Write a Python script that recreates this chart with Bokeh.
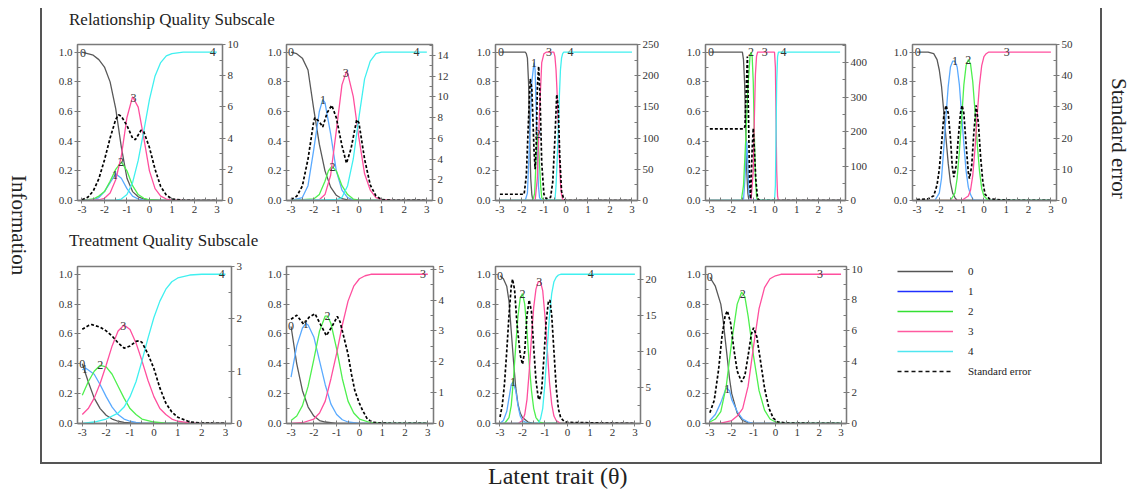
import numpy as np
from bokeh.plotting import figure
from bokeh.models import (Range1d, LinearAxis, FixedTicker, Div, Spacer, Legend, LegendItem,
                          CustomJSTickFormatter)
from bokeh.layouts import row, column
from bokeh.core.properties import value
from bokeh.embed import file_html
from bokeh.resources import INLINE

# ---------------- DATA ----------------
# Relationship Quality Subscale, item 1 (right axis 0-10)
RQ1_X0 = [-3, -2.75, -2.5, -2.25, -2, -1.75, -1.5, -1.25, -1, -0.75, -0.5, -0.25, 0, 0.5, 1, 3]
RQ1_Y0 = [1.0, 0.99, 0.98, 0.95, 0.9, 0.8, 0.62, 0.36, 0.15, 0.06, 0.025, 0.01, 0.004, 0, 0, 0]
RQ1_X1 = [-3, -2.5, -2.25, -2, -1.75, -1.5, -1.25, -1, -0.75, -0.5, -0.25, 0, 3]
RQ1_Y1 = [0, 0.005, 0.02, 0.06, 0.12, 0.18, 0.15, 0.08, 0.03, 0.01, 0.003, 0, 0]
RQ1_X2 = [-3, -2.5, -2.25, -2, -1.75, -1.5, -1.25, -1, -0.75, -0.5, -0.25, 0, 0.5, 3]
RQ1_Y2 = [0, 0.01, 0.03, 0.06, 0.13, 0.21, 0.26, 0.2, 0.1, 0.04, 0.015, 0.005, 0, 0]
RQ1_X3 = [-3, -2.25, -2, -1.75, -1.5, -1.25, -1, -0.75, -0.5, -0.25, 0, 0.25, 0.5, 0.75, 1, 1.5, 3]
RQ1_Y3 = [0, 0.005, 0.015, 0.05, 0.14, 0.3, 0.56, 0.7, 0.63, 0.42, 0.2, 0.08, 0.03, 0.01, 0.004, 0, 0]
RQ1_X4 = [-3, -1.5, -1.25, -1, -0.75, -0.5, -0.25, 0, 0.25, 0.5, 0.75, 1, 1.5, 3]
RQ1_Y4 = [0, 0.003, 0.01, 0.04, 0.12, 0.27, 0.47, 0.68, 0.84, 0.93, 0.975, 0.99, 1.0, 1.0]
RQ1_SEX = [-3, -2.75, -2.5, -2.25, -2, -1.75, -1.5, -1.375, -1.25, -1, -0.75, -0.625, -0.5, -0.375,
           -0.25, 0, 0.25, 0.5, 0.75, 1, 1.5, 2, 3]
RQ1_SEY = [0.05, 0.2, 0.6, 1.4, 2.6, 4.0, 5.2, 5.5, 5.4, 4.8, 4.0, 3.9, 4.2, 4.5, 4.4, 3.4, 2.0, 0.9,
           0.35, 0.1, 0.02, 0, 0]
RQ1_LABX = [-2.95, -1.53, -1.26, -0.71, 2.82]

# item 2 (right axis 0-15)
RQ2_X0 = [-3, -2.75, -2.5, -2.25, -2, -1.75, -1.5, -1.25, -1, -0.75, -0.5, 0, 3]
RQ2_Y0 = [1.0, 0.99, 0.96, 0.88, 0.62, 0.38, 0.2, 0.09, 0.035, 0.012, 0.004, 0, 0]
RQ2_X1 = [-3, -2.5, -2.25, -2, -1.75, -1.6, -1.5, -1.25, -1, -0.75, -0.5, -0.25, 0, 3]
RQ2_Y1 = [0, 0.02, 0.1, 0.34, 0.6, 0.68, 0.66, 0.45, 0.2, 0.07, 0.02, 0.005, 0, 0]
RQ2_X2 = [-3, -2, -1.75, -1.5, -1.35, -1.2, -1, -0.75, -0.5, -0.25, 0, 0.5, 3]
RQ2_Y2 = [0, 0.01, 0.04, 0.13, 0.2, 0.23, 0.2, 0.1, 0.04, 0.01, 0.003, 0, 0]
RQ2_X3 = [-3, -1.75, -1.5, -1.25, -1, -0.75, -0.55, -0.5, -0.25, 0, 0.25, 0.5, 0.75, 1, 1.5, 3]
RQ2_Y3 = [0, 0.005, 0.04, 0.17, 0.47, 0.78, 0.87, 0.86, 0.7, 0.42, 0.18, 0.07, 0.02, 0.005, 0, 0]
RQ2_X4 = [-3, -1, -0.75, -0.5, -0.25, 0, 0.25, 0.5, 0.75, 1, 3]
RQ2_Y4 = [0, 0.005, 0.02, 0.1, 0.28, 0.56, 0.82, 0.94, 0.99, 1.0, 1.0]
RQ2_SEX = [-3, -2.75, -2.5, -2.25, -2, -1.95, -1.75, -1.6, -1.4, -1.2, -1, -0.75, -0.55, -0.35, -0.1,
           0, 0.25, 0.5, 0.75, 1, 1.5, 3]
RQ2_SEY = [0.1, 0.4, 1.4, 4.0, 7.6, 8.0, 7.6, 7.1, 8.5, 9.2, 8.0, 5.3, 3.6, 5.0, 7.8, 7.5, 4.0, 1.5,
           0.45, 0.1, 0.02, 0]
RQ2_LABX = [-3.0, -1.59, -1.17, -0.58, 2.54]

# item 3 (right axis 0-250)
RQ3_X0 = [-3, -1.85, -1.8, -1.75, -1.7, -1.65, -1.6, -1.55, -1.5, 3]
RQ3_Y0 = [1, 1, 0.99, 0.96, 0.8, 0.45, 0.15, 0.04, 0, 0]
RQ3_X1 = [-3, -1.85, -1.75, -1.65, -1.55, -1.45, -1.4, -1.35, -1.3, -1.25, -1.2, -1.1, 3]
RQ3_Y1 = [0, 0, 0.05, 0.4, 0.8, 0.93, 0.88, 0.6, 0.3, 0.1, 0.02, 0, 0]
RQ3_X2 = [-3, -1.5, -1.42, -1.35, -1.28, -1.22, -1.15, -1.1, -1.0, 3]
RQ3_Y2 = [0, 0, 0.05, 0.3, 0.45, 0.3, 0.1, 0.02, 0, 0]
RQ3_X3 = [-3, -1.4, -1.3, -1.2, -1.1, -1.0, -0.9, -0.55, -0.5, -0.45, -0.4, -0.35, -0.3, -0.25,
          -0.2, -0.15, -0.1, 3]
RQ3_Y3 = [0, 0, 0.15, 0.6, 0.93, 0.99, 1.0, 1.0, 0.97, 0.88, 0.72, 0.52, 0.3, 0.12, 0.04, 0.01, 0, 0]
RQ3_X4 = [-3, -0.5, -0.45, -0.4, -0.35, -0.3, -0.25, -0.2, -0.15, -0.1, 3]
RQ3_Y4 = [0, 0, 0.1, 0.27, 0.47, 0.7, 0.88, 0.96, 0.99, 1.0, 1.0]
RQ3_SEX = [-3, -1.9, -1.8, -1.7, -1.62, -1.55, -1.45, -1.4, -1.35, -1.3, -1.24, -1.18, -1.1, -1.0,
           -0.9, -0.7, -0.6, -0.5, -0.42, -0.35, -0.28, -0.2, -0.1, 0, 3]
RQ3_SEY = [10, 10, 40, 130, 195, 180, 80, 50, 90, 180, 215, 170, 60, 10, 3, 5, 30, 100, 170, 150,
           70, 15, 2, 0, 0]
RQ3_LABX = [-2.95, -1.45, -1.28, -0.77, 0.21]

# item 4 (right axis 0-450)
RQ4_X0 = [-3, -1.5, -1.45, -1.4, -1.35, -1.3, -1.25, -1.2, 3]
RQ4_Y0 = [1, 1, 0.95, 0.8, 0.5, 0.2, 0.05, 0, 0]
RQ4_X1 = [-3, -1.45, -1.38, -1.3, -1.25, -1.2, -1.1, 3]
RQ4_Y1 = [0, 0, 0.15, 0.4, 0.25, 0.05, 0, 0]
RQ4_X2 = [-3, -1.55, -1.45, -1.35, -1.25, -1.15, -1.1, -1.05, -1.0, -0.95, -0.9, -0.85, -0.8, 3]
RQ4_Y2 = [0, 0, 0.1, 0.4, 0.75, 0.97, 1.0, 0.97, 0.8, 0.45, 0.15, 0.03, 0, 0]
RQ4_X3 = [-3, -1.1, -1.0, -0.95, -0.9, -0.85, -0.8, -0.02, 0.02, 0.05, 0.08, 0.12, 0.16, 3]
RQ4_Y3 = [0, 0, 0.2, 0.55, 0.85, 0.97, 1.0, 1.0, 0.9, 0.55, 0.2, 0.03, 0, 0]
RQ4_X4 = [-3, -0.02, 0.02, 0.05, 0.08, 0.12, 0.16, 3]
RQ4_Y4 = [0, 0, 0.1, 0.45, 0.8, 0.97, 1.0, 1.0]
RQ4_SEX = [-3, -1.45, -1.38, -1.32, -1.27, -1.22, -1.17, -1.12, -1.05, -1.0, -0.95, -0.88, -0.8,
           -0.7, 3]
RQ4_SEY = [208, 208, 215, 330, 418, 250, 60, 5, 150, 210, 150, 60, 5, 0, 0]
RQ4_LABX = [-2.95, None, -1.1, -0.47, 0.39]

# item 5 (right axis 0-50), four categories
RQ5_X0 = [-3, -2.5, -2.25, -2.1, -2.0, -1.9, -1.8, -1.7, -1.6, -1.5, -1.4, -1.3, -1.2, 3]
RQ5_Y0 = [1, 1, 0.99, 0.95, 0.88, 0.77, 0.6, 0.42, 0.25, 0.12, 0.05, 0.02, 0, 0]
RQ5_X1 = [-3, -2.2, -2.0, -1.9, -1.8, -1.7, -1.6, -1.5, -1.4, -1.3, -1.2, -1.1, -1.0, -0.9, -0.8,
          -0.7, -0.6, -0.5, -0.4, 3]
RQ5_Y1 = [0, 0, 0.05, 0.15, 0.35, 0.57, 0.77, 0.9, 0.94, 0.94, 0.9, 0.78, 0.58, 0.38, 0.2, 0.09,
          0.04, 0.01, 0, 0]
RQ5_X2 = [-3, -1.5, -1.3, -1.2, -1.1, -1.0, -0.9, -0.8, -0.7, -0.6, -0.5, -0.4, -0.3, -0.2, -0.1,
          0, 0.2, 3]
RQ5_Y2 = [0, 0, 0.05, 0.15, 0.33, 0.55, 0.78, 0.91, 0.95, 0.92, 0.8, 0.6, 0.38, 0.2, 0.08, 0.03, 0, 0]
RQ5_X3 = [-3, -1.0, -0.7, -0.6, -0.5, -0.4, -0.3, -0.2, -0.1, 0, 0.1, 0.2, 3]
RQ5_Y3 = [0, 0, 0.03, 0.07, 0.17, 0.35, 0.58, 0.78, 0.91, 0.97, 0.99, 1.0, 1.0]
RQ5_SEX = [-3, -2.5, -2.25, -2.1, -2.0, -1.9, -1.8, -1.7, -1.6, -1.5, -1.42, -1.35, -1.25, -1.15,
           -1.05, -0.98, -0.9, -0.8, -0.7, -0.65, -0.55, -0.45, -0.35, -0.25, -0.15, -0.05, 0.05,
           0.25, 1, 3]
RQ5_SEY = [0.3, 0.5, 1.5, 5, 10, 18, 27, 30.5, 28, 20, 11, 7.5, 11, 20, 28, 30.5, 28, 18, 9, 7, 11,
           22, 30.5, 25, 14, 6, 2, 0.5, 0.1, 0]
RQ5_LABX = [-2.96, -1.3, -0.7, 1.02]

# Treatment Quality Subscale, item 1 (right axis 0-3)
TQ1_X0 = [-3, -2.75, -2.5, -2.25, -2, -1.75, -1.5, -1.25, -1, -0.5, 0, 3]
TQ1_Y0 = [0.4, 0.28, 0.17, 0.1, 0.055, 0.03, 0.015, 0.008, 0.004, 0, 0, 0]
TQ1_X1 = [-3, -2.85, -2.5, -2.25, -2, -1.75, -1.5, -1.25, -1, -0.75, -0.5, 0, 3]
TQ1_Y1 = [0.36, 0.37, 0.33, 0.26, 0.18, 0.11, 0.06, 0.03, 0.015, 0.007, 0.003, 0, 0]
TQ1_X2 = [-3, -2.75, -2.5, -2.25, -2, -1.75, -1.5, -1.25, -1, -0.75, -0.5, 0, 0.5, 1, 3]
TQ1_Y2 = [0.19, 0.28, 0.35, 0.39, 0.38, 0.33, 0.25, 0.17, 0.1, 0.06, 0.03, 0.01, 0.003, 0, 0]
TQ1_X3 = [-3, -2.75, -2.5, -2.25, -2, -1.75, -1.5, -1.25, -1, -0.75, -0.5, -0.25, 0, 0.25, 0.5,
          0.75, 1, 1.5, 2, 3]
TQ1_Y3 = [0.06, 0.1, 0.17, 0.27, 0.39, 0.52, 0.62, 0.66, 0.63, 0.54, 0.42, 0.29, 0.18, 0.1, 0.06,
          0.03, 0.015, 0.004, 0, 0]
TQ1_X4 = [-3, -2.5, -2, -1.5, -1.25, -1, -0.75, -0.5, -0.25, 0, 0.25, 0.5, 0.75, 1, 1.5, 2, 3]
TQ1_Y4 = [0, 0.01, 0.03, 0.07, 0.11, 0.18, 0.28, 0.42, 0.57, 0.71, 0.82, 0.9, 0.95, 0.975, 0.995,
          1.0, 1.0]
TQ1_SEX = [-3, -2.75, -2.6, -2.25, -2, -1.75, -1.5, -1.25, -1, -0.75, -0.6, -0.5, -0.25, 0, 0.25,
           0.5, 0.75, 1, 1.5, 2, 3]
TQ1_SEY = [1.80, 1.87, 1.89, 1.84, 1.77, 1.67, 1.54, 1.44, 1.48, 1.57, 1.58, 1.55, 1.33, 1.05, 0.68,
           0.39, 0.22, 0.12, 0.03, 0.01, 0]
TQ1_LABX = [-3.0, -2.9, -2.25, -1.28, 2.84]

# item 2 (right axis 0-5), four categories
TQ2_X0 = [-3, -2.75, -2.5, -2.25, -2, -1.75, -1.5, -1, 3]
TQ2_Y0 = [0.65, 0.4, 0.22, 0.11, 0.05, 0.02, 0.01, 0, 0]
TQ2_X1 = [-3, -2.75, -2.5, -2.35, -2.25, -2, -1.75, -1.5, -1.25, -1, -0.75, -0.5, 0, 3]
TQ2_Y1 = [0.31, 0.52, 0.64, 0.67, 0.66, 0.58, 0.42, 0.26, 0.13, 0.06, 0.025, 0.01, 0, 0]
TQ2_X2 = [-3, -2.75, -2.5, -2.25, -2, -1.75, -1.5, -1.4, -1.25, -1, -0.75, -0.5, -0.25, 0, 0.5, 1, 3]
TQ2_Y2 = [0.02, 0.05, 0.12, 0.25, 0.43, 0.62, 0.72, 0.72, 0.67, 0.5, 0.3, 0.15, 0.07, 0.03, 0.005,
          0, 0]
TQ2_X3 = [-3, -2.5, -2, -1.75, -1.5, -1.25, -1, -0.75, -0.5, -0.25, 0, 0.25, 0.5, 3]
TQ2_Y3 = [0, 0.005, 0.03, 0.07, 0.15, 0.3, 0.47, 0.66, 0.82, 0.92, 0.97, 0.99, 1.0, 1.0]
TQ2_SEX = [-3, -2.75, -2.45, -2.2, -1.95, -1.7, -1.45, -1.2, -0.97, -0.85, -0.7, -0.5, -0.35, -0.2,
           0, 0.15, 0.35, 0.6, 1, 3]
TQ2_SEY = [3.38, 3.51, 3.22, 3.45, 3.56, 3.2, 2.85, 3.15, 3.47, 3.3, 2.85, 2.25, 1.6, 1.06, 0.65,
           0.41, 0.14, 0.04, 0.01, 0]
TQ2_LABX = [-3.0, -2.35, -1.4, 2.79]

# item 3 (right axis 0-21.75)
TQ3_X0 = [-3, -2.85, -2.7, -2.6, -2.5, -2.4, -2.3, -2.2, -2.1, -2, -1.75, -1.5, 3]
TQ3_Y0 = [0.99, 0.97, 0.92, 0.82, 0.62, 0.42, 0.24, 0.13, 0.07, 0.04, 0.01, 0, 0]
TQ3_X1 = [-3, -2.85, -2.7, -2.6, -2.5, -2.42, -2.3, -2.2, -2.1, -2, -1.75, 3]
TQ3_Y1 = [0, 0.02, 0.08, 0.17, 0.26, 0.28, 0.22, 0.12, 0.05, 0.02, 0, 0]
TQ3_X2 = [-3, -2.8, -2.6, -2.5, -2.4, -2.3, -2.2, -2.1, -2, -1.9, -1.8, -1.7, -1.6, -1.5, -1.4,
          -1.25, -1, 3]
TQ3_Y2 = [0, 0, 0.04, 0.12, 0.3, 0.52, 0.72, 0.84, 0.87, 0.8, 0.62, 0.4, 0.22, 0.1, 0.04, 0.01, 0, 0]
TQ3_X3 = [-3, -2.2, -2, -1.9, -1.8, -1.7, -1.6, -1.5, -1.4, -1.3, -1.2, -1.1, -1.0, -0.9, -0.8,
          -0.7, -0.6, -0.5, -0.3, 3]
TQ3_Y3 = [0, 0, 0.02, 0.06, 0.16, 0.35, 0.58, 0.78, 0.9, 0.95, 0.95, 0.89, 0.72, 0.5, 0.28, 0.13,
          0.05, 0.02, 0, 0]
TQ3_X4 = [-3, -1.3, -1.2, -1.1, -1.0, -0.9, -0.8, -0.7, -0.6, -0.5, -0.4, -0.3, 3]
TQ3_Y4 = [0, 0, 0.03, 0.1, 0.27, 0.5, 0.72, 0.87, 0.95, 0.98, 0.995, 1.0, 1.0]
TQ3_SEX = [-3, -2.9, -2.8, -2.7, -2.6, -2.5, -2.44, -2.35, -2.25, -2.1, -2.0, -1.9, -1.8, -1.7,
           -1.6, -1.5, -1.4, -1.3, -1.25, -1.15, -1.05, -0.95, -0.85, -0.78, -0.7, -0.6, -0.5,
           -0.4, -0.3, -0.15, 0, 3]
TQ3_SEY = [0.9, 2.5, 5.5, 10, 15, 19, 20, 18.5, 14, 9.5, 8.2, 10, 15, 17.1, 15.5, 10.5, 6, 3.6,
           3.3, 4.5, 9, 14, 16.8, 17.1, 15, 10, 5, 2, 0.8, 0.3, 0.15, 0]
TQ3_LABX = [-3.0, -2.42, -2.0, -1.25, 1.04]

# item 4 (right axis 0-10), four categories
TQ4_X0 = [-3, -2.75, -2.5, -2.4, -2.25, -2.1, -2, -1.75, -1.5, -1.25, -1, 3]
TQ4_Y0 = [0.98, 0.92, 0.8, 0.7, 0.5, 0.3, 0.2, 0.07, 0.02, 0.005, 0, 0]
TQ4_X1 = [-3, -2.75, -2.5, -2.25, -2.1, -2, -1.75, -1.5, -1.25, -1, 3]
TQ4_Y1 = [0.02, 0.06, 0.14, 0.24, 0.22, 0.16, 0.08, 0.03, 0.01, 0, 0]
TQ4_X2 = [-3, -2.75, -2.5, -2.25, -2, -1.75, -1.55, -1.4, -1.25, -1, -0.75, -0.5, -0.25, 0, 0.25, 3]
TQ4_Y2 = [0.01, 0.03, 0.08, 0.25, 0.55, 0.8, 0.88, 0.85, 0.72, 0.45, 0.22, 0.09, 0.03, 0.01, 0, 0]
TQ4_X3 = [-3, -2.5, -2, -1.75, -1.5, -1.25, -1, -0.75, -0.5, -0.25, 0, 0.25, 3]
TQ4_Y3 = [0, 0.003, 0.02, 0.05, 0.1, 0.25, 0.52, 0.77, 0.91, 0.97, 0.99, 1.0, 1.0]
TQ4_SEX = [-3, -2.8, -2.6, -2.45, -2.3, -2.2, -2.05, -1.9, -1.75, -1.55, -1.4, -1.25, -1.1, -1.0,
           -0.85, -0.7, -0.5, -0.3, -0.1, 0.1, 0.5, 3]
TQ4_SEY = [0.7, 1.5, 3.5, 5.6, 7.0, 7.3, 6.5, 4.8, 3.4, 2.7, 3.1, 4.4, 5.8, 6.2, 5.6, 4.2, 2.3, 1.0,
           0.35, 0.1, 0.03, 0]
TQ4_LABX = [-3.0, -2.2, -1.5, 2.04]

X_TICKS = [-3, -2, -1, 0, 1, 2, 3]
INFO_TICKS = [0, 0.2, 0.4, 0.6, 0.8, 1.0]
LEGEND_LABELS = ["0", "1", "2", "3", "4", "Standard error"]
TITLE_RQ = "Relationship Quality Subscale"
TITLE_TQ = "Treatment Quality Subscale"

# ---------------- STYLE ----------------
FONT = "Liberation Serif"
CURVE_COLORS = ["#595959", "#5aaaff", "#4ef04e", "#ff4f9e", "#40f0f0"]
LEGEND_COLORS = ["#555555", "#1f2fff", "#33e033", "#ff5aa0", "#4fe6f0", "#111111"]
AXC = "#7a7a7a"
NOMARGIN = (0, 0, 0, 0)


def style_axis(ax, ticks, minor, code):
    ax.ticker = FixedTicker(ticks=ticks, minor_ticks=minor)
    ax.formatter = CustomJSTickFormatter(code=code)
    ax.axis_line_color = AXC
    ax.axis_line_width = 1.3
    ax.major_tick_line_color = AXC
    ax.minor_tick_line_color = AXC
    ax.major_tick_out = 3
    ax.major_tick_in = 0
    ax.minor_tick_out = 0
    ax.minor_tick_in = 3
    ax.major_label_text_font = FONT
    ax.major_label_text_font_size = "11px"
    ax.major_label_text_color = "#333333"
    ax.major_label_standoff = 2


def make_panel(curves, se_x, se_y, se_max, se_ticks, se_minor, label_x, fw, fh, br):
    p = figure(frame_width=fw, frame_height=fh, x_range=Range1d(-3.2, 3.25),
               y_range=Range1d(0, 1.052), output_backend="svg", toolbar_location=None,
               min_border_left=32, min_border_right=br, min_border_top=6, min_border_bottom=24,
               background_fill_color="white", border_fill_color="white", margin=NOMARGIN)
    p.xgrid.visible = False
    p.ygrid.visible = False
    p.outline_line_color = AXC
    p.outline_line_width = 1.3
    p.extra_y_ranges = {"se": Range1d(0, se_max)}
    style_axis(p.xaxis[0], X_TICKS, [v / 2 for v in range(-6, 7)], "return tick.toFixed(0);")
    style_axis(p.yaxis[0], INFO_TICKS, [v / 10 for v in range(0, 11)], "return tick.toFixed(1);")
    rax = LinearAxis(y_range_name="se")
    style_axis(rax, se_ticks, se_minor, "return String(tick);")
    p.add_layout(rax, "right")

    for k, (xs, ys) in enumerate(curves):
        p.line(xs, ys, line_color=CURVE_COLORS[k], line_width=1.3)
    p.line(se_x, se_y, y_range_name="se", line_color="black", line_dash="3 2", line_width=1.7)

    lx, ly, lt = [], [], []
    for k, ((xs, ys), x0) in enumerate(zip(curves, label_x)):
        if x0 is None:
            continue
        lx.append(x0)
        ly.append(float(np.interp(x0, xs, ys)))
        lt.append(str(k))
    p.text(x=lx, y=ly, text=lt, text_font=value(FONT), text_font_size="12px",
           text_align="center", text_baseline="middle", text_color="#333333")
    return p


def steps(a, b, s):
    n = int(round((b - a) / s))
    return [a + i * s for i in range(n + 1)]


rq1 = make_panel([(RQ1_X0, RQ1_Y0), (RQ1_X1, RQ1_Y1), (RQ1_X2, RQ1_Y2), (RQ1_X3, RQ1_Y3), (RQ1_X4, RQ1_Y4)],
                 RQ1_SEX, RQ1_SEY, 10, steps(0, 10, 2), steps(0, 10, 1), RQ1_LABX, 145, 156, 32)
rq2 = make_panel([(RQ2_X0, RQ2_Y0), (RQ2_X1, RQ2_Y1), (RQ2_X2, RQ2_Y2), (RQ2_X3, RQ2_Y3), (RQ2_X4, RQ2_Y4)],
                 RQ2_SEX, RQ2_SEY, 15.07, steps(0, 14, 2), steps(0, 15, 1), RQ2_LABX, 146, 156, 31)
rq3 = make_panel([(RQ3_X0, RQ3_Y0), (RQ3_X1, RQ3_Y1), (RQ3_X2, RQ3_Y2), (RQ3_X3, RQ3_Y3), (RQ3_X4, RQ3_Y4)],
                 RQ3_SEX, RQ3_SEY, 250, steps(0, 250, 50), steps(0, 250, 25), RQ3_LABX, 142, 156, 36)
rq4 = make_panel([(RQ4_X0, RQ4_Y0), (RQ4_X1, RQ4_Y1), (RQ4_X2, RQ4_Y2), (RQ4_X3, RQ4_Y3), (RQ4_X4, RQ4_Y4)],
                 RQ4_SEX, RQ4_SEY, 453, steps(0, 400, 100), steps(0, 450, 50), RQ4_LABX, 140, 156, 35)
rq5 = make_panel([(RQ5_X0, RQ5_Y0), (RQ5_X1, RQ5_Y1), (RQ5_X2, RQ5_Y2), (RQ5_X3, RQ5_Y3)],
                 RQ5_SEX, RQ5_SEY, 50, steps(0, 50, 10), steps(0, 50, 5), RQ5_LABX, 144, 156, 32)

tq1 = make_panel([(TQ1_X0, TQ1_Y0), (TQ1_X1, TQ1_Y1), (TQ1_X2, TQ1_Y2), (TQ1_X3, TQ1_Y3), (TQ1_X4, TQ1_Y4)],
                 TQ1_SEX, TQ1_SEY, 3, steps(0, 3, 1), steps(0, 3, 0.5), TQ1_LABX, 154, 157, 23)
tq2 = make_panel([(TQ2_X0, TQ2_Y0), (TQ2_X1, TQ2_Y1), (TQ2_X2, TQ2_Y2), (TQ2_X3, TQ2_Y3)],
                 TQ2_SEX, TQ2_SEY, 5.09, steps(0, 5, 1), steps(0, 5, 0.5), TQ2_LABX, 147, 157, 30)
tq3 = make_panel([(TQ3_X0, TQ3_Y0), (TQ3_X1, TQ3_Y1), (TQ3_X2, TQ3_Y2), (TQ3_X3, TQ3_Y3), (TQ3_X4, TQ3_Y4)],
                 TQ3_SEX, TQ3_SEY, 21.75, steps(0, 20, 5), steps(0, 20, 2.5), TQ3_LABX, 145, 157, 33)
tq4 = make_panel([(TQ4_X0, TQ4_Y0), (TQ4_X1, TQ4_Y1), (TQ4_X2, TQ4_Y2), (TQ4_X3, TQ4_Y3)],
                 TQ4_SEX, TQ4_SEY, 10.17, steps(0, 10, 2), steps(0, 10, 1), TQ4_LABX, 141, 157, 30)

# legend panel (proxy renderers hold no visible points)
lg = figure(frame_width=191, frame_height=157, x_range=Range1d(0, 1), y_range=Range1d(0, 1),
            output_backend="svg", toolbar_location=None, x_axis_location=None,
            y_axis_location=None, min_border_left=21, min_border_right=0, min_border_top=0,
            min_border_bottom=30, outline_line_color=None, margin=NOMARGIN)
lg.xgrid.visible = False
lg.ygrid.visible = False
NAN2 = [np.nan, np.nan]
items = []
for i, lab in enumerate(LEGEND_LABELS):
    dash = "solid" if i < 5 else "4 3"
    r = lg.line(x=NAN2, y=NAN2, line_color=LEGEND_COLORS[i], line_width=1.5, line_dash=dash)
    items.append(LegendItem(label=lab, renderers=[r]))
leg = Legend(items=items, location=(0, 45), margin=0, padding=0, spacing=6,
             glyph_width=56, glyph_height=14, label_height=14, label_standoff=15,
             label_text_font=FONT, label_text_font_size="11px", label_text_color="#222222",
             border_line_color=None, background_fill_alpha=0)
lg.add_layout(leg, "center")

SERIF = "font-family:'Liberation Serif',serif;color:#222;white-space:nowrap;"
title1 = Div(text=f'<div style="{SERIF}font-size:17px;line-height:20px;padding:2px 0 0 27px;">{TITLE_RQ}</div>',
             width=1046, height=30, margin=NOMARGIN)
title2 = Div(text=f'<div style="{SERIF}font-size:17px;line-height:20px;padding:7px 0 0 27px;">{TITLE_TQ}</div>',
             width=1046, height=36, margin=NOMARGIN)

row1 = row(Spacer(width=3, height=186, margin=NOMARGIN), rq1, rq2, rq3, rq4, rq5, margin=NOMARGIN)
row2 = row(Spacer(width=3, height=187, margin=NOMARGIN), tq1, tq2, tq3, tq4, lg, margin=NOMARGIN)
center = column(title1, row1, title2, row2, Spacer(width=1046, height=15, margin=NOMARGIN),
                margin=NOMARGIN)

left_lab = Div(text=f'<div style="{SERIF}writing-mode:vertical-rl;font-size:21px;line-height:22px;margin-top:167px;">Information</div>',
               width=32, height=454, margin=NOMARGIN)
right_lab = Div(text=f'<div style="{SERIF}writing-mode:vertical-rl;font-size:21px;line-height:22px;margin-top:70px;margin-left:6px;">Standard error</div>',
                width=30, height=454, margin=NOMARGIN)
vline_l = Div(text="", width=2, height=454, margin=NOMARGIN, styles={"background-color": "#555555"})
vline_r = Div(text="", width=2, height=454, margin=NOMARGIN, styles={"background-color": "#555555"})
main = row(left_lab, vline_l, center, Spacer(width=12, height=454, margin=NOMARGIN), vline_r,
           right_lab, margin=NOMARGIN)

hline = Div(text="", width=1062, height=2, margin=NOMARGIN, styles={"background-color": "#555555"})
bottom_line = row(Spacer(width=32, height=2, margin=NOMARGIN), hline, margin=NOMARGIN)
bottom_lab = Div(text=f'<div style="{SERIF}font-size:24px;line-height:24px;padding-left:480px;">Latent trait (&theta;)</div>',
                 width=1124, height=24, margin=NOMARGIN)

content = column(main, bottom_line, bottom_lab, margin=NOMARGIN)
root = column(Spacer(width=1132, height=8, margin=NOMARGIN),
              row(Spacer(width=8, height=480, margin=NOMARGIN), content, margin=NOMARGIN),
              margin=NOMARGIN)

open("out.html", "w").write(file_html(root, INLINE))
